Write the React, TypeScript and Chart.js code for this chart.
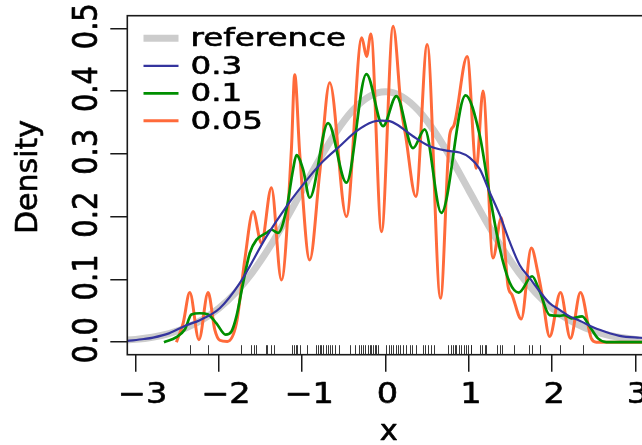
import React, { useEffect, useRef } from "react";
import { Chart, registerables } from "chart.js";
Chart.register(...registerables);

// ---------- data ----------
const seriesLabels = ["reference", "0.3", "0.1", "0.05"];
const xTicks = [-3, -2, -1, 0, 1, 2, 3];
const yTicks = [0, 0.1, 0.2, 0.3, 0.4, 0.5];
const xTitle = "x";
const yTitle = "Density";

const refX = [-3.2, -3.0, -2.8, -2.6, -2.4, -2.2, -2.0, -1.8, -1.6, -1.4, -1.2, -1.0, -0.8, -0.6, -0.4, -0.2, 0, 0.2, 0.4, 0.6, 0.8, 1.0, 1.2, 1.4, 1.6, 1.8, 2.0, 2.2, 2.4, 2.6, 2.8, 3.0, 3.2];
const refY = [0.0024, 0.0044, 0.0079, 0.0136, 0.0224, 0.0355, 0.054, 0.079, 0.1109, 0.1497, 0.1942, 0.242, 0.2897, 0.3332, 0.3683, 0.391, 0.3989, 0.391, 0.3683, 0.3332, 0.2897, 0.242, 0.1942, 0.1497, 0.1109, 0.079, 0.054, 0.0355, 0.0224, 0.0136, 0.0079, 0.0044, 0.0024];

const bw03X = [-3.1, -2.9, -2.79, -2.6, -2.39, -2.23, -1.99, -1.75, -1.43, -1.19, -0.91, -0.75, -0.55, -0.35, -0.15, -0.05, 0.05, 0.13, 0.33, 0.53, 0.73, 0.89, 1.01, 1.13, 1.25, 1.37, 1.49, 1.61, 1.73, 1.85, 1.97, 2.09, 2.21, 2.33, 2.57, 2.81, 3.05, 3.2];
const bw03Y = [0.002, 0.005, 0.0073, 0.014, 0.027, 0.035, 0.054, 0.094, 0.168, 0.216, 0.264, 0.288, 0.312, 0.336, 0.351, 0.353, 0.352, 0.347, 0.328, 0.312, 0.305, 0.302, 0.294, 0.276, 0.239, 0.203, 0.16, 0.123, 0.102, 0.081, 0.062, 0.0515, 0.041, 0.034, 0.0196, 0.01, 0.007, 0.006];

const bw01X = [-2.66, -2.51, -2.41, -2.33, -2.23, -2.13, -2.03, -1.92, -1.85, -1.79, -1.71, -1.63, -1.55, -1.43, -1.37, -1.29, -1.19, -1.11, -1.07, -0.99, -0.91, -0.69, -0.47, -0.23, -0.03, 0.13, 0.33, 0.47, 0.67, 0.96, 1.13, 1.25, 1.37, 1.49, 1.6, 1.76, 1.85, 1.97, 2.09, 2.15, 2.23, 2.36, 2.45, 2.55, 2.65, 3.2];
const bw01Y = [0, 0.008, 0.02, 0.044, 0.046, 0.044, 0.03, 0.012, 0.017, 0.041, 0.094, 0.142, 0.163, 0.174, 0.179, 0.174, 0.211, 0.275, 0.298, 0.275, 0.23, 0.349, 0.254, 0.427, 0.344, 0.392, 0.309, 0.339, 0.206, 0.393, 0.33, 0.235, 0.15, 0.095, 0.079, 0.105, 0.081, 0.043, 0.042, 0.043, 0.038, 0.041, 0.025, 0.006, 0, 0];

const bw005X = [-2.51, -2.43, -2.35, -2.24, -2.13, -2.05, -1.99, -1.9, -1.79, -1.69, -1.59, -1.49, -1.37, -1.25, -1.13, -1.09, -1.03, -0.91, -0.79, -0.67, -0.47, -0.285, -0.228, -0.176, -0.048, 0.091, 0.19, 0.24, 0.364, 0.5, 0.66, 0.77, 0.82, 0.98, 1.09, 1.17, 1.29, 1.39, 1.47, 1.52, 1.63, 1.75, 1.83, 1.88, 1.97, 2.1, 2.22, 2.34, 2.47, 2.53, 3.2];
const bw005Y = [0, 0.03, 0.079, 0.004, 0.079, 0.02, 0.003, 0.001, 0.03, 0.131, 0.208, 0.158, 0.246, 0.099, 0.307, 0.426, 0.3, 0.131, 0.27, 0.413, 0.2, 0.485, 0.455, 0.491, 0.176, 0.503, 0.37, 0.33, 0.232, 0.474, 0.07, 0.33, 0.345, 0.455, 0.277, 0.4, 0.134, 0.198, 0.09, 0.075, 0.037, 0.15, 0.11, 0.075, 0.009, 0.079, 0.006, 0.079, 0.006, 0, 0];

const rugX = [-2.35, -2.13, -1.73, -1.61, -1.58, -1.56, -1.44, -1.42, -1.37, -1.34,
  -1.12, -1.1, -1.08, -1.06, -1.03, -0.94,
  -0.84, -0.81, -0.79, -0.78, -0.75, -0.72, -0.69, -0.67, -0.64, -0.61, -0.56,
  -0.43, -0.37, -0.32, -0.29, -0.27, -0.25, -0.21, -0.19, -0.17, -0.15, -0.13, -0.11, -0.09,
  0.01, 0.04, 0.07, 0.09, 0.12, 0.15, 0.17, 0.21, 0.25, 0.29, 0.32, 0.37, 0.45, 0.47, 0.51, 0.55, 0.58,
  0.75, 0.78, 0.81, 0.83, 0.85, 0.88, 0.91, 0.94, 0.97, 0.99, 1.02, 1.03,
  1.13, 1.16, 1.19, 1.21, 1.34, 1.37, 1.4,
  1.54, 1.72, 1.76, 1.86, 2.1, 2.37];

const seriesX = [refX, bw03X, bw01X, bw005X];
const seriesY = [refY, bw03Y, bw01Y, bw005Y];
const seriesColors = ["#cccccc", "#34349e", "#008f00", "#ff6a3a"];
const seriesWidths = [7, 2.2, 2.7, 3];
const seriesOrder = [4, 1, 2, 3];

// ---------- helpers ----------
const FONT = '"DejaVu Sans", sans-serif';

function drawText(ctx: CanvasRenderingContext2D, text: string, x: number, y: number, size: number, sx: number, sy: number, rot: number, align: CanvasTextAlign) {
  ctx.save();
  ctx.translate(x, y);
  ctx.rotate(rot);
  ctx.scale(sx, sy);
  ctx.font = `${size}px ${FONT}`;
  ctx.textAlign = align;
  ctx.textBaseline = "alphabetic";
  ctx.fillStyle = "#000";
  ctx.strokeStyle = "#000";
  ctx.lineWidth = 0.6;
  ctx.lineJoin = "round";
  ctx.fillText(text, 0, 0);
  ctx.strokeText(text, 0, 0);
  ctx.restore();
}

const fmtX = (v: number) => (v < 0 ? "\u2212" + Math.abs(v) : String(v));

const decorPlugin = {
  id: "decor",
  afterDraw(chart: any) {
    const { ctx, chartArea: a, scales } = chart;
    const xs = scales.x;
    const ys = scales.y;
    ctx.save();
    // box
    ctx.strokeStyle = "#1a1a1a";
    ctx.lineWidth = 1.6;
    ctx.strokeRect(a.left, a.top, a.right - a.left, a.bottom - a.top);
    // rug
    ctx.strokeStyle = "#222";
    ctx.lineWidth = 0.9;
    ctx.beginPath();
    for (const v of rugX) {
      const px = Math.round(xs.getPixelForValue(v)) + 0.5;
      ctx.moveTo(px, a.bottom);
      ctx.lineTo(px, a.bottom - 9.5);
    }
    ctx.stroke();
    // tick labels
    for (const v of xTicks) {
      const px = xs.getPixelForValue(v) + (v < 0 ? 7 : 2);
      drawText(ctx, fmtX(v), px, 403, 28, 1.2, 1, 0, "center");
    }
    for (const v of yTicks) {
      const py = ys.getPixelForValue(v) - 2;
      drawText(ctx, v.toFixed(1), 97, py, 29, 1, 1.15, -Math.PI / 2, "center");
    }
    // axis titles
    drawText(ctx, xTitle, (a.left + a.right) / 2 - 1, 440, 29, 1.05, 1, 0, "center");
    drawText(ctx, yTitle, 36.5, 177, 30, 1, 1, -Math.PI / 2, "center");
    // legend
    const y0 = 38.3;
    const dy = 27.5;
    chart.data.datasets.forEach((ds: any, i: number) => {
      const y = y0 + i * dy;
      ctx.strokeStyle = ds.borderColor;
      ctx.lineWidth = ds.borderWidth;
      ctx.lineCap = "butt";
      ctx.beginPath();
      ctx.moveTo(143.5, y);
      ctx.lineTo(178.5, y);
      ctx.stroke();
      drawText(ctx, ds.label, 190.5, y + 8, 24.5, 1.33, 1, 0, "left");
    });
    ctx.restore();
  },
};

export default function App() {
  const ref = useRef<HTMLCanvasElement | null>(null);
  useEffect(() => {
    if (!ref.current) return;
    const datasets = seriesLabels.map((label, i) => ({
      label,
      data: seriesX[i].map((x, j) => ({ x, y: seriesY[i][j] })),
      borderColor: seriesColors[i],
      backgroundColor: seriesColors[i],
      borderWidth: seriesWidths[i],
      pointRadius: 0,
      fill: false,
      cubicInterpolationMode: "monotone" as const,
      order: seriesOrder[i],
    }));
    const chart = new Chart(ref.current, {
      type: "line",
      data: { datasets },
      options: {
        animation: false,
        responsive: false,
        devicePixelRatio: 1,
        layout: { padding: { top: 15.7, right: 27.9, left: 0, bottom: 0 } },
        plugins: { legend: { display: false }, tooltip: { enabled: false } },
        scales: {
          x: {
            type: "linear",
            min: -3.1,
            max: 3.2,
            afterBuildTicks: (s: any) => {
              s.ticks = xTicks.map((value) => ({ value }));
            },
            afterFit: (s: any) => {
              s.height = 90.3;
            },
            ticks: { display: false },
            border: { display: false },
            grid: { drawOnChartArea: false, drawTicks: true, tickLength: 17, color: "#1a1a1a", lineWidth: 1.5 },
          },
          y: {
            type: "linear",
            min: -0.02,
            max: 0.52,
            afterBuildTicks: (s: any) => {
              s.ticks = yTicks.map((value) => ({ value }));
            },
            afterFit: (s: any) => {
              s.width = 127.3;
            },
            ticks: { display: false },
            border: { display: false },
            grid: { drawOnChartArea: false, drawTicks: true, tickLength: 17, color: "#1a1a1a", lineWidth: 1.5 },
          },
        },
      },
      plugins: [decorPlugin],
    });
    return () => chart.destroy();
  }, []);
  return (
    <div style={{ position: "fixed", left: 0, top: 0, width: 642, height: 445, overflow: "hidden", background: "#fff" }}>
      <canvas ref={ref} width={680} height={445} style={{ display: "block", width: 680, height: 445 }} />
    </div>
  );
}
